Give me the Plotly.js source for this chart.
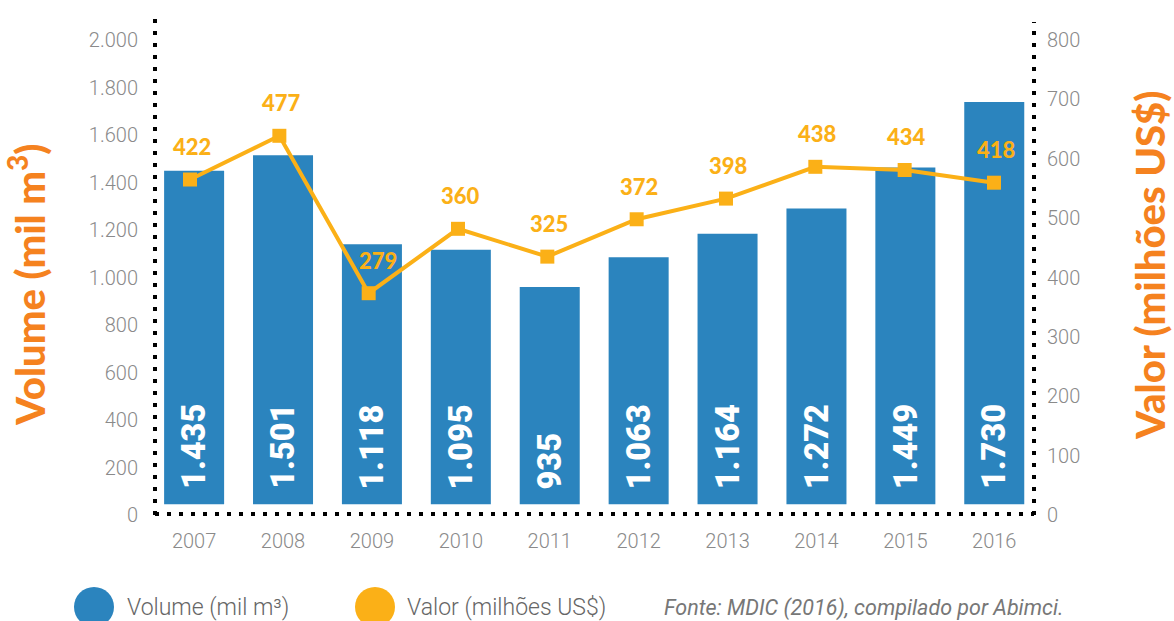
<!DOCTYPE html>
<html>
<head>
<meta charset="utf-8">
<script src="https://cdn.plot.ly/plotly-3.0.1.min.js"></script>
<style>html,body{margin:0;padding:0;background:#fff;}#chart{width:1174px;height:621px;}</style>
</head>
<body>
<div id="chart"></div>
<script>
// ---- data ----
const years = ['2007','2008','2009','2010','2011','2012','2013','2014','2015','2016'];
const volume = [1435, 1501, 1118, 1095, 935, 1063, 1164, 1272, 1449, 1730]; // mil m3
const valor = [422, 477, 279, 360, 325, 372, 398, 438, 434, 418];          // milhões US$
const leftTitle = 'Volume (mil m<sup>3</sup>)';
const rightTitle = 'Valor (milhões US$)';
const legendVolume = 'Volume (mil m³)';
const legendValor = 'Valor (milhões US$)';
const source = 'Fonte: MDIC (2016), compilado por Abimci.';

// ---- styling ----
const BLUE = '#2b84be';
const YELLOW = '#fbb017';
const ORANGE = '#f5821f';
const GRAY = '#8a8a8a';

const W = 1174, H = 621;
const M = {l: 155, r: 140, t: 40, b: 106};
const PW = W - M.l - M.r, PH = H - M.t - M.b;
const px = x => (x - M.l) / PW;
const py = y => (H - M.b - y) / PH;

function fmt(n) {
  if (n >= 1000) return Math.floor(n / 1000) + '.' + String(n % 1000).padStart(3, '0');
  return String(n);
}

const bars = {
  type: 'bar', x: years, y: volume, xaxis: 'x', yaxis: 'y',
  marker: {color: BLUE}, width: 0.675, hoverinfo: 'skip', showlegend: false
};
const line = {
  type: 'scatter', mode: 'lines+markers', x: years, y: valor, xaxis: 'x2', yaxis: 'y2',
  line: {color: YELLOW, width: 4}, marker: {symbol: 'square', size: 14, color: YELLOW},
  hoverinfo: 'skip', showlegend: false
};
// carriers for the two visible tick axes (no marks)
const leftAxisCarrier = {type: 'scatter', mode: 'markers', x: [years[0]], y: [null], xaxis: 'x', yaxis: 'y3',
  hoverinfo: 'skip', showlegend: false};
const rightAxisCarrier = {type: 'scatter', mode: 'markers', x: [years[0]], y: [null], xaxis: 'x', yaxis: 'y4',
  hoverinfo: 'skip', showlegend: false};

const annotations = [];
years.forEach((yr, i) => {
  // category axis: annotation x is the category index
  annotations.push({
    x: i, y: 0, xref: 'x', yref: 'y', text: fmt(volume[i]), showarrow: false,
    textangle: -90, yanchor: 'bottom', xanchor: 'center', yshift: 13,
    font: {family: 'Roboto', size: 32.5, color: '#ffffff', weight: 900}
  });
  annotations.push({
    x: i, y: valor[i], xref: 'x2', yref: 'y2', text: String(valor[i]), showarrow: false,
    xanchor: 'center', yanchor: 'middle',
    yshift: 33, xshift: yr === '2009' ? 9 : 2,
    font: {family: 'Lato', size: 22, color: YELLOW, weight: 900}
  });
});
annotations.push({
  xref: 'paper', yref: 'paper', x: px(27), y: py(285), xanchor: 'center', yanchor: 'middle',
  text: leftTitle, showarrow: false,
  textangle: -90, font: {family: 'Lato', size: 40, color: ORANGE, weight: 900}
});
annotations.push({
  xref: 'paper', yref: 'paper', x: px(1150), y: py(266), xanchor: 'center', yanchor: 'middle',
  text: rightTitle, showarrow: false, borderpad: 0,
  textangle: -90, font: {family: 'Lato', size: 40, color: ORANGE, weight: 900}
});
annotations.push({
  xref: 'paper', yref: 'paper', x: px(125), y: py(607), xanchor: 'left', yanchor: 'middle', text: legendVolume,
  showarrow: false, font: {family: 'Roboto', size: 23, color: '#666666', weight: 300}
});
annotations.push({
  xref: 'paper', yref: 'paper', x: px(405), y: py(607), xanchor: 'left', yanchor: 'middle', text: legendValor,
  showarrow: false, font: {family: 'Roboto', size: 23, color: '#666666', weight: 300}
});
annotations.push({
  xref: 'paper', yref: 'paper', x: px(662), y: py(608), xanchor: 'left', yanchor: 'middle',
  text: '<i>' + source + '</i>',
  showarrow: false, font: {family: 'Roboto', size: 21.5, color: '#777777'}
});

const dot = {color: '#000000', width: 4, dash: '4px,8px'};
const shapes = [
  {type: 'line', xref: 'paper', yref: 'paper', x0: 0, x1: 0, y0: 0, y1: py(19), line: dot},
  {type: 'line', xref: 'paper', yref: 'paper', x0: 1, x1: 1, y0: 0, y1: py(22), line: dot},
  {type: 'line', xref: 'paper', yref: 'paper', x0: 0, x1: 1, y0: py(514), y1: py(514), line: dot},
  {type: 'circle', xref: 'paper', yref: 'paper', x0: px(74), x1: px(114), y0: py(587), y1: py(627),
   fillcolor: BLUE, line: {width: 0}},
  {type: 'circle', xref: 'paper', yref: 'paper', x0: px(355), x1: px(395), y0: py(587), y1: py(627),
   fillcolor: YELLOW, line: {width: 0}}
];

const tickfont = {family: 'Roboto', size: 20, color: GRAY, weight: 300};
const layout = {
  width: W, height: H, margin: M, showlegend: false,
  paper_bgcolor: '#ffffff', plot_bgcolor: '#ffffff',
  separators: ',.',
  xaxis: {type: 'category', range: [-0.44, 9.447], showgrid: false, zeroline: false, showline: false,
          ticks: '', tickfont: tickfont, ticklabelstandoff: 12, fixedrange: true},
  xaxis2: {type: 'category', range: [-0.392, 9.448], overlaying: 'x', anchor: 'y', visible: false},
  yaxis: {range: [-46, 1997], showgrid: false, zeroline: false, showline: false,
          showticklabels: false, ticks: ''},
  yaxis2: {range: [0, 597.5], overlaying: 'y', anchor: 'x', showgrid: false, zeroline: false,
           showline: false, showticklabels: false, ticks: ''},
  yaxis3: {range: [0, 2000], dtick: 200, tick0: 0, overlaying: 'y', anchor: 'x', side: 'left',
           showgrid: false, zeroline: false, showline: false,
           ticks: '', tickfont: tickfont, separatethousands: true, tickformat: ',d', ticklabelstandoff: 16},
  yaxis4: {range: [0, 800], dtick: 100, tick0: 0, overlaying: 'y', anchor: 'x', side: 'right',
           showgrid: false, zeroline: false, showline: false, ticks: '', tickfont: tickfont,
           ticklabelstandoff: 12},
  shapes: shapes, annotations: annotations
};

Plotly.newPlot('chart', [bars, line, leftAxisCarrier, rightAxisCarrier], layout,
  {staticPlot: true, displayModeBar: false});
</script>
</body>
</html>
